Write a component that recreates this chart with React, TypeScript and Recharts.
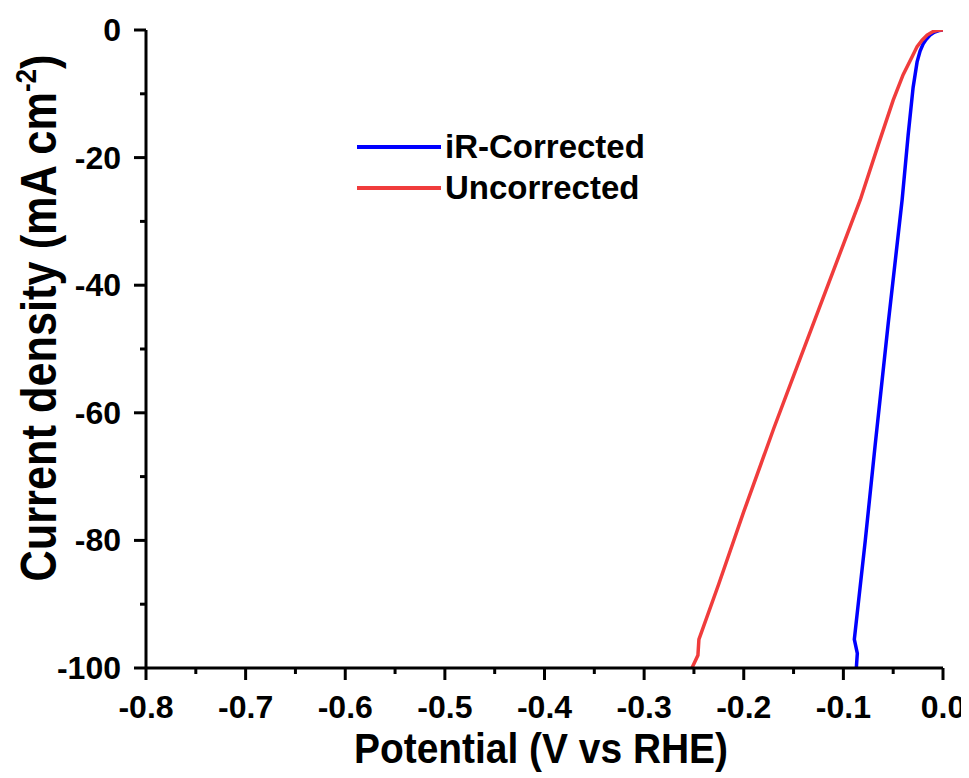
import { Line, LineChart, XAxis, YAxis } from "recharts"

// iR-corrected polarization curve (potential V vs RHE, current density mA cm^-2)
const correctedPotential = [0, -0.004, -0.009, -0.013, -0.017, -0.02, -0.023, -0.026, -0.03, -0.035, -0.041, -0.055, -0.068, -0.078, -0.089, -0.086, -0.087]
const correctedCurrent = [0, -0.1, -0.35, -0.8, -1.5, -2.2, -3.3, -5.0, -9.0, -16.5, -26.6, -46, -64.9, -80, -95.5, -97.7, -100]

// uncorrected curve
const rawPotential = [0, -0.005, -0.01, -0.016, -0.021, -0.026, -0.031, -0.04, -0.05, -0.065, -0.083, -0.1, -0.125, -0.15, -0.17, -0.2, -0.225, -0.245, -0.246, -0.252]
const rawCurrent = [0, -0.05, -0.25, -0.8, -1.6, -2.6, -4.2, -7.0, -11.0, -18.0, -26.6, -33.6, -43.9, -54.2, -62.5, -75.5, -86.8, -95.5, -98, -100]

const xTicks = [-0.8, -0.75, -0.7, -0.65, -0.6, -0.55, -0.5, -0.45, -0.4, -0.35, -0.3, -0.25, -0.2, -0.15, -0.1, -0.05, 0]
const yTicks = [0, -10, -20, -30, -40, -50, -60, -70, -80, -90, -100]

const legendItems = [
  { name: "iR-Corrected", color: "#0000ff" },
  { name: "Uncorrected", color: "#f03c3c" },
]

const correctedData = correctedPotential.map((p, i) => ({ potential: p, current: correctedCurrent[i] }))
const rawData = rawPotential.map((p, i) => ({ potential: p, current: rawCurrent[i] }))

const FONT = "'Liberation Sans', Arial, sans-serif"
const TICK_SIZE = 12
const TICK_MARGIN = 6

const isMajorX = (v: number) => Math.abs(Math.round(v * 10) - v * 10) < 1e-6
const isMajorY = (v: number) => Math.abs(v) % 20 === 0

const XTick = (props: any) => {
  const { x, y, payload } = props
  const v = payload.value
  const major = isMajorX(v)
  const axisY = y - TICK_SIZE - TICK_MARGIN
  return (
    <g>
      <line x1={x} x2={x} y1={axisY} y2={axisY + (major ? TICK_SIZE : 6)} stroke="#000" strokeWidth={3} />
      {major && (
        <text x={x} y={axisY + 50} textAnchor="middle" fontFamily={FONT} fontWeight="bold" fontSize={32} fill="#000">
          {v.toFixed(1)}
        </text>
      )}
    </g>
  )
}

const YTick = (props: any) => {
  const { x, y, payload } = props
  const v = payload.value
  const major = isMajorY(v)
  const axisX = x + TICK_SIZE + TICK_MARGIN
  return (
    <g>
      <line x1={axisX} x2={axisX - (major ? TICK_SIZE : 6)} y1={y} y2={y} stroke="#000" strokeWidth={3} />
      {major && (
        <text x={axisX - 25} y={y + 11} textAnchor="end" fontFamily={FONT} fontWeight="bold" fontSize={32} fill="#000">
          {v}
        </text>
      )}
    </g>
  )
}

const XTitle = () => (
  <text x={533} y={755} textAnchor="middle" fontFamily={FONT} fontWeight="bold" fontSize={42} fill="#000" textLength={374} lengthAdjust="spacingAndGlyphs">
    Potential (V vs RHE)
  </text>
)

const YTitle = () => (
  <text
    transform="translate(48, 310) rotate(-90)"
    x={0}
    y={0}
    textAnchor="middle"
    fontFamily={FONT}
    fontWeight="bold"
    fontSize={50}
    fill="#000"
    textLength={527}
    lengthAdjust="spacingAndGlyphs"
  >
    Current density (mA cm<tspan dy={-20} fontSize={30}>-2</tspan>
    <tspan dy={20}>)</tspan>
  </text>
)

export default function App() {
  return (
    <div style={{ position: "relative", width: 961, height: 770 }}>
      <LineChart width={961} height={770} margin={{ top: 22, right: 26, left: 0, bottom: 0 }}>
        <XAxis
          type="number"
          dataKey="potential"
          domain={[-0.8, 0]}
          ticks={xTicks}
          interval={0}
          height={110}
          axisLine={{ stroke: "#000", strokeWidth: 3 }}
          tickLine={false}
          tickSize={TICK_SIZE}
          tickMargin={TICK_MARGIN}
          tick={<XTick />}
          allowDataOverflow
          label={<XTitle />}
        />
        <XAxis xAxisId="top" orientation="top" type="number" domain={[-0.8, 0]} height={0} tick={false} tickLine={false} axisLine={{ stroke: "#000", strokeWidth: 3 }} />
        <YAxis
          type="number"
          dataKey="current"
          domain={[-100, 0]}
          ticks={yTicks}
          interval={0}
          width={138}
          axisLine={{ stroke: "#000", strokeWidth: 3 }}
          tickLine={false}
          tickSize={TICK_SIZE}
          tickMargin={TICK_MARGIN}
          tick={<YTick />}
          allowDataOverflow
          label={<YTitle />}
        />
        <YAxis yAxisId="right" orientation="right" type="number" domain={[-100, 0]} width={0} tick={false} tickLine={false} axisLine={{ stroke: "#000", strokeWidth: 3 }} />
        <Line data={correctedData} dataKey="current" name="iR-Corrected" type="linear" stroke="#0000ff" strokeWidth={3.5} dot={false} isAnimationActive={false} />
        <Line data={rawData} dataKey="current" name="Uncorrected" type="linear" stroke="#f03c3c" strokeWidth={3.5} dot={false} isAnimationActive={false} />
      </LineChart>
      <div style={{ position: "absolute", left: 349, top: 118, fontFamily: FONT, fontWeight: "bold", fontSize: 33, color: "#000" }}>
        {legendItems.map((item) => (
          <div key={item.name} style={{ display: "flex", alignItems: "center", height: 41 }}>
            <span style={{ display: "inline-block", width: 84, height: 4, background: item.color, marginRight: 4 }} />
            <span style={{ lineHeight: "41px" }}>{item.name}</span>
          </div>
        ))}
      </div>
    </div>
  )
}
